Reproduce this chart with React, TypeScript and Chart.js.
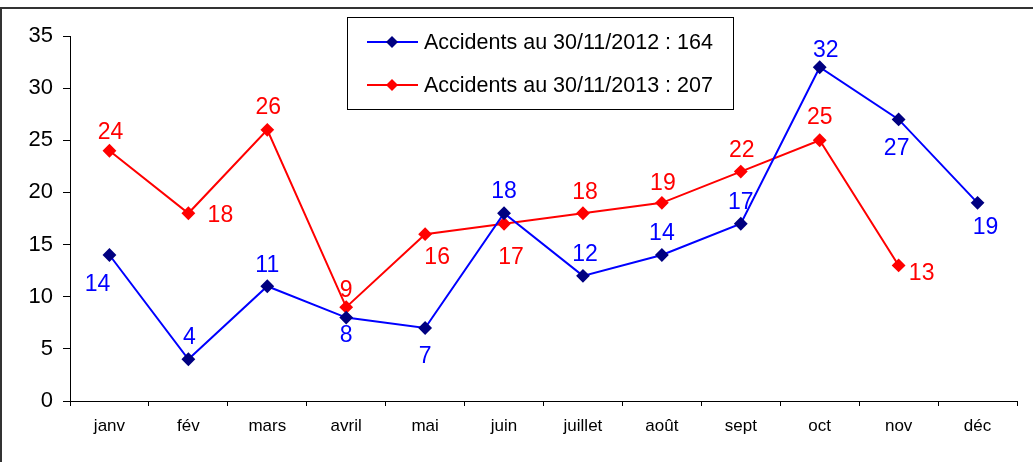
import React, { useEffect, useRef } from "react";
import { Chart, registerables } from "chart.js";

Chart.register(...registerables);

const months = ["janv", "fév", "mars", "avril", "mai", "juin", "juillet", "août", "sept", "oct", "nov", "déc"];
const accidents2012 = [14, 4, 11, 8, 7, 18, 12, 14, 17, 32, 27, 19];
const accidents2013 = [24, 18, 26, 9, 16, 17, 18, 19, 22, 25, 13, null];
const legend2012 = "Accidents au 30/11/2012 : 164";
const legend2013 = "Accidents au 30/11/2013 : 207";
const yTicks = [0, 5, 10, 15, 20, 25, 30, 35];

// label offsets (style) relative to each point
const labelOffsets2012: [number, number][] = [
  [-12, 30], [1, -22], [0, -21], [0, 18], [0, 29], [0, -22],
  [2, -21], [0, -21], [0, -21], [6, -17], [-2, 29], [8, 25],
];
const labelOffsets2013: [number, number][] = [
  [1, -18], [32, 2], [1, -22], [0, -16], [12, 24], [7, 34],
  [2, -21], [1, -19], [1, -21], [0, -23], [23, 8], [0, 0],
];

const FONT = "'Liberation Sans', Arial, sans-serif";

const decorPlugin = {
  id: "decor",
  beforeDraw(chart: any) {
    const ctx = chart.ctx;
    ctx.save();
    ctx.fillStyle = "#ffffff";
    ctx.fillRect(0, 0, chart.width, chart.height);
    ctx.strokeStyle = "#333333";
    ctx.lineWidth = 2;
    ctx.strokeRect(1, 8, chart.width + 10, chart.height + 10);
    ctx.restore();
  },
  afterDatasetsDraw(chart: any) {
    const ctx = chart.ctx;
    ctx.save();
    ctx.font = `23px ${FONT}`;
    ctx.textAlign = "center";
    ctx.textBaseline = "middle";
    const sets = [
      { data: accidents2012, off: labelOffsets2012, color: "#0000ff" },
      { data: accidents2013, off: labelOffsets2013, color: "#ff0000" },
    ];
    sets.forEach((s, di) => {
      const meta = chart.getDatasetMeta(di);
      s.data.forEach((v, i) => {
        if (v === null || v === undefined) return;
        const el = meta.data[i];
        ctx.fillStyle = s.color;
        ctx.fillText(String(v), el.x + s.off[i][0], el.y + s.off[i][1]);
      });
    });

    // legend
    const bx = 347.5, by = 17.5, bw = 386, bh = 92;
    ctx.fillStyle = "#ffffff";
    ctx.fillRect(bx, by, bw, bh);
    ctx.strokeStyle = "#000000";
    ctx.lineWidth = 1;
    ctx.strokeRect(bx, by, bw, bh);
    const rows = [
      { text: legend2012, line: "#0000ff", marker: "#000080", y: 42 },
      { text: legend2013, line: "#ff0000", marker: "#ff0000", y: 85 },
    ];
    rows.forEach((r) => {
      ctx.strokeStyle = r.line;
      ctx.lineWidth = 2;
      ctx.beginPath();
      ctx.moveTo(367, r.y);
      ctx.lineTo(418, r.y);
      ctx.stroke();
      ctx.fillStyle = r.marker;
      ctx.beginPath();
      ctx.moveTo(392, r.y - 6);
      ctx.lineTo(398, r.y);
      ctx.lineTo(392, r.y + 6);
      ctx.lineTo(386, r.y);
      ctx.closePath();
      ctx.fill();
      ctx.fillStyle = "#000000";
      ctx.font = `21.5px ${FONT}`;
      ctx.textAlign = "left";
      ctx.textBaseline = "middle";
      ctx.fillText(r.text, 424, r.y + 1);
    });
    ctx.restore();
  },
};

export default function App() {
  const ref = useRef<HTMLCanvasElement>(null);
  useEffect(() => {
    document.body.style.margin = "0";
    const chart = new Chart(ref.current!, {
      type: "line",
      data: {
        labels: months,
        datasets: [
          {
            label: legend2012,
            data: accidents2012,
            borderColor: "#0000ff",
            backgroundColor: "#000080",
            pointBackgroundColor: "#000080",
            pointBorderColor: "#000080",
            pointStyle: "rectRot",
            pointRadius: 5.5,
            borderWidth: 2,
            tension: 0,
          },
          {
            label: legend2013,
            data: accidents2013,
            borderColor: "#ff0000",
            backgroundColor: "#ff0000",
            pointBackgroundColor: "#ff0000",
            pointBorderColor: "#ff0000",
            pointStyle: "rectRot",
            pointRadius: 5.5,
            borderWidth: 2,
            tension: 0,
          },
        ],
      },
      options: {
        animation: false,
        responsive: false,
        layout: { padding: { top: 36, right: 16, left: 0, bottom: 0 } },
        plugins: { legend: { display: false }, tooltip: { enabled: false } },
        scales: {
          x: {
            type: "category",
            offset: true,
            grid: {
              offset: true,
              drawOnChartArea: false,
              drawTicks: true,
              tickLength: 5,
              color: "#000000",
            },
            border: { display: true, color: "#000000", width: 1 },
            ticks: {
              color: "#000000",
              font: { family: FONT, size: 17 },
              padding: 10,
              maxRotation: 0,
              autoSkip: false,
            },
            afterFit(scale: any) {
              scale.height = 61;
            },
          },
          y: {
            min: 0,
            max: 35,
            afterBuildTicks(scale: any) {
              scale.ticks = yTicks.map((v) => ({ value: v }));
            },
            grid: {
              drawOnChartArea: false,
              drawTicks: true,
              tickLength: 7,
              color: "#000000",
            },
            border: { display: true, color: "#000000", width: 1 },
            ticks: {
              color: "#000000",
              font: { family: FONT, size: 22 },
              padding: 10,
            },
            afterFit(scale: any) {
              scale.width = 70;
            },
          },
        },
      },
      plugins: [decorPlugin],
    });
    return () => chart.destroy();
  }, []);
  return <canvas ref={ref} width={1033} height={462} style={{ display: "block" }} />;
}
